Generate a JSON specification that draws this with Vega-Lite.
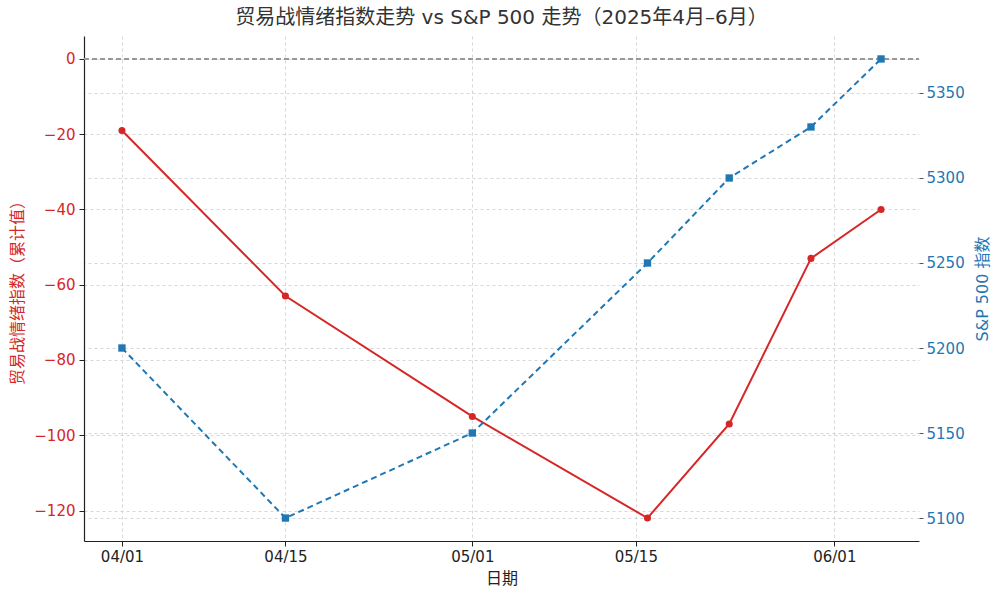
{
  "$schema": "https://vega.github.io/schema/vega-lite/v6.json",
  "width": 835,
  "height": 505,
  "autosize": {"type": "none"},
  "padding": {"left": 84, "top": 36, "right": 81, "bottom": 54},
  "background": "white",
  "title": {
    "text": "贸易战情绪指数走势 vs S&P 500 走势（2025年4月–6月）",
    "fontSize": 20,
    "fontWeight": "normal",
    "color": "#333333",
    "font": "DejaVu Sans, Noto Sans CJK SC",
    "offset": 8,
    "anchor": "middle"
  },
  "config": {
    "view": {"stroke": null},
    "font": "DejaVu Sans, Noto Sans CJK SC",
    "axis": {
      "labelFont": "DejaVu Sans, Noto Sans CJK SC",
      "titleFont": "DejaVu Sans, Noto Sans CJK SC",
      "labelFontSize": 15,
      "titleFontSize": 16,
      "titleFontWeight": "normal",
      "gridColor": "#cccccc",
      "gridDash": [3, 3],
      "gridWidth": 0.8
    }
  },
  "data": {
    "values": [
      {"date": "2025-04-01", "sentiment": -19, "sp500": 5200},
      {"date": "2025-04-15", "sentiment": -63, "sp500": 5100},
      {"date": "2025-05-01", "sentiment": -95, "sp500": 5150},
      {"date": "2025-05-16", "sentiment": -122, "sp500": 5250},
      {"date": "2025-05-23", "sentiment": -97, "sp500": 5300},
      {"date": "2025-05-30", "sentiment": -53, "sp500": 5330},
      {"date": "2025-06-05", "sentiment": -40, "sp500": 5370}
    ]
  },
  "encoding": {
    "x": {
      "field": "date",
      "type": "temporal",
      "title": "日期",
      "scale": {
        "type": "utc",
        "domain": [
          {"year": 2025, "month": 3, "date": 28, "hours": 18, "utc": true},
          {"year": 2025, "month": 6, "date": 8, "hours": 6, "utc": true}
        ],
        "nice": false
      },
      "axis": {
        "values": [
          {"year": 2025, "month": 4, "date": 1, "utc": true},
          {"year": 2025, "month": 4, "date": 15, "utc": true},
          {"year": 2025, "month": 5, "date": 1, "utc": true},
          {"year": 2025, "month": 5, "date": 15, "utc": true},
          {"year": 2025, "month": 6, "date": 1, "utc": true}
        ],
        "format": "%m/%d",
        "labelColor": "#222222",
        "titleColor": "#222222",
        "domainColor": "#222222",
        "domainWidth": 1.2,
        "tickColor": "#222222",
        "tickSize": 5,
        "labelPadding": 3,
        "titlePadding": 6,
        "grid": true
      }
    }
  },
  "layer": [
    {
      "layer": [
        {
          "mark": {"type": "rule", "color": "#999999", "strokeDash": [5, 3], "strokeWidth": 0.9},
          "encoding": {"y": {"datum": 0}, "x": {"value": 0}, "x2": {"value": 835}}
        },
        {
          "mark": {"type": "line", "color": "#d62728", "strokeWidth": 2},
          "encoding": {
            "y": {
              "field": "sentiment",
              "type": "quantitative",
              "title": "贸易战情绪指数（累计值）",
              "scale": {"domain": [-128.1, 6.1], "nice": false, "zero": false},
              "axis": {
                "orient": "left",
                "values": [-120, -100, -80, -60, -40, -20, 0],
                "labelColor": "#d62728",
                "titleColor": "#d62728",
                "domainColor": "#222222",
                "domainWidth": 1.2,
                "tickColor": "#222222",
                "tickSize": 5,
                "labelPadding": 4,
                "titlePadding": 8,
                "grid": true
              }
            }
          }
        },
        {
          "mark": {"type": "point", "shape": "circle", "filled": true, "color": "#d62728", "size": 50, "opacity": 1},
          "encoding": {"y": {"field": "sentiment", "type": "quantitative"}}
        }
      ]
    },
    {
      "layer": [
        {
          "mark": {"type": "line", "color": "#1f77b4", "strokeWidth": 2, "strokeDash": [6, 4]},
          "encoding": {
            "y": {
              "field": "sp500",
              "type": "quantitative",
              "title": "S&P 500 指数",
              "scale": {"domain": [5086.5, 5383.5], "nice": false, "zero": false},
              "axis": {
                "orient": "right",
                "values": [5100, 5150, 5200, 5250, 5300, 5350],
                "format": "d",
                "labelColor": "#1f77b4",
                "titleColor": "#1f77b4",
                "titleAngle": 270,
                "domain": false,
                "tickColor": "#555555",
                "tickSize": 4,
                "labelPadding": 3,
                "titlePadding": 26,
                "grid": true
              }
            }
          }
        },
        {
          "mark": {"type": "point", "shape": "square", "filled": true, "color": "#1f77b4", "size": 54, "opacity": 1},
          "encoding": {"y": {"field": "sp500", "type": "quantitative"}}
        }
      ]
    }
  ],
  "resolve": {"scale": {"y": "independent"}, "axis": {"y": "independent"}}
}
